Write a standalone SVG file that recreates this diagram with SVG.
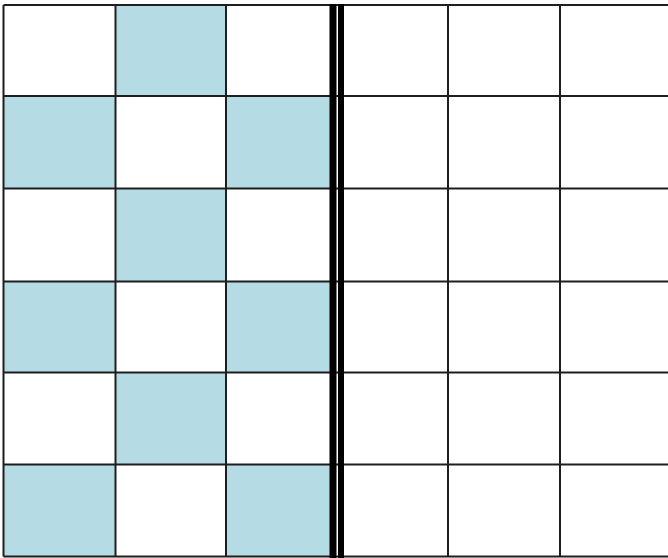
<svg xmlns="http://www.w3.org/2000/svg" width="668" height="558" viewBox="0 0 668 558">
<style>
.c{fill:#b5dbe5}
.g{stroke:#1e1e1e;stroke-width:2;fill:none}
.t{fill:#000}
</style>
<rect width="668" height="558" fill="#fff"/>
<g id="cells">
<rect class="c" x="115.5" y="5" width="110.5" height="91"/>
<rect class="c" x="3.5" y="96" width="112" height="92.5"/>
<rect class="c" x="226" y="96" width="104" height="92.5"/>
<rect class="c" x="115.5" y="188.5" width="110.5" height="93"/>
<rect class="c" x="3.5" y="281.5" width="112" height="91"/>
<rect class="c" x="226" y="281.5" width="104" height="91"/>
<rect class="c" x="115.5" y="372.5" width="110.5" height="92"/>
<rect class="c" x="3.5" y="464.5" width="112" height="92"/>
<rect class="c" x="226" y="464.5" width="104" height="92"/>
</g>
<g id="grid" class="g">
<path d="M3.5 5V556.5M115.5 5V556.5M226 5V556.5M448 5V556.5M560 5V556.5"/>
<path d="M3.5 5H668M3.5 96H668M3.5 188.5H668M3.5 281.5H668M3.5 372.5H668M3.5 464.5H668M3.5 556.5H668"/>
</g>
<g id="divider">
<rect class="t" x="329.5" y="4" width="7" height="554"/>
<rect class="t" x="338" y="4" width="6" height="554"/>
</g>
</svg>
